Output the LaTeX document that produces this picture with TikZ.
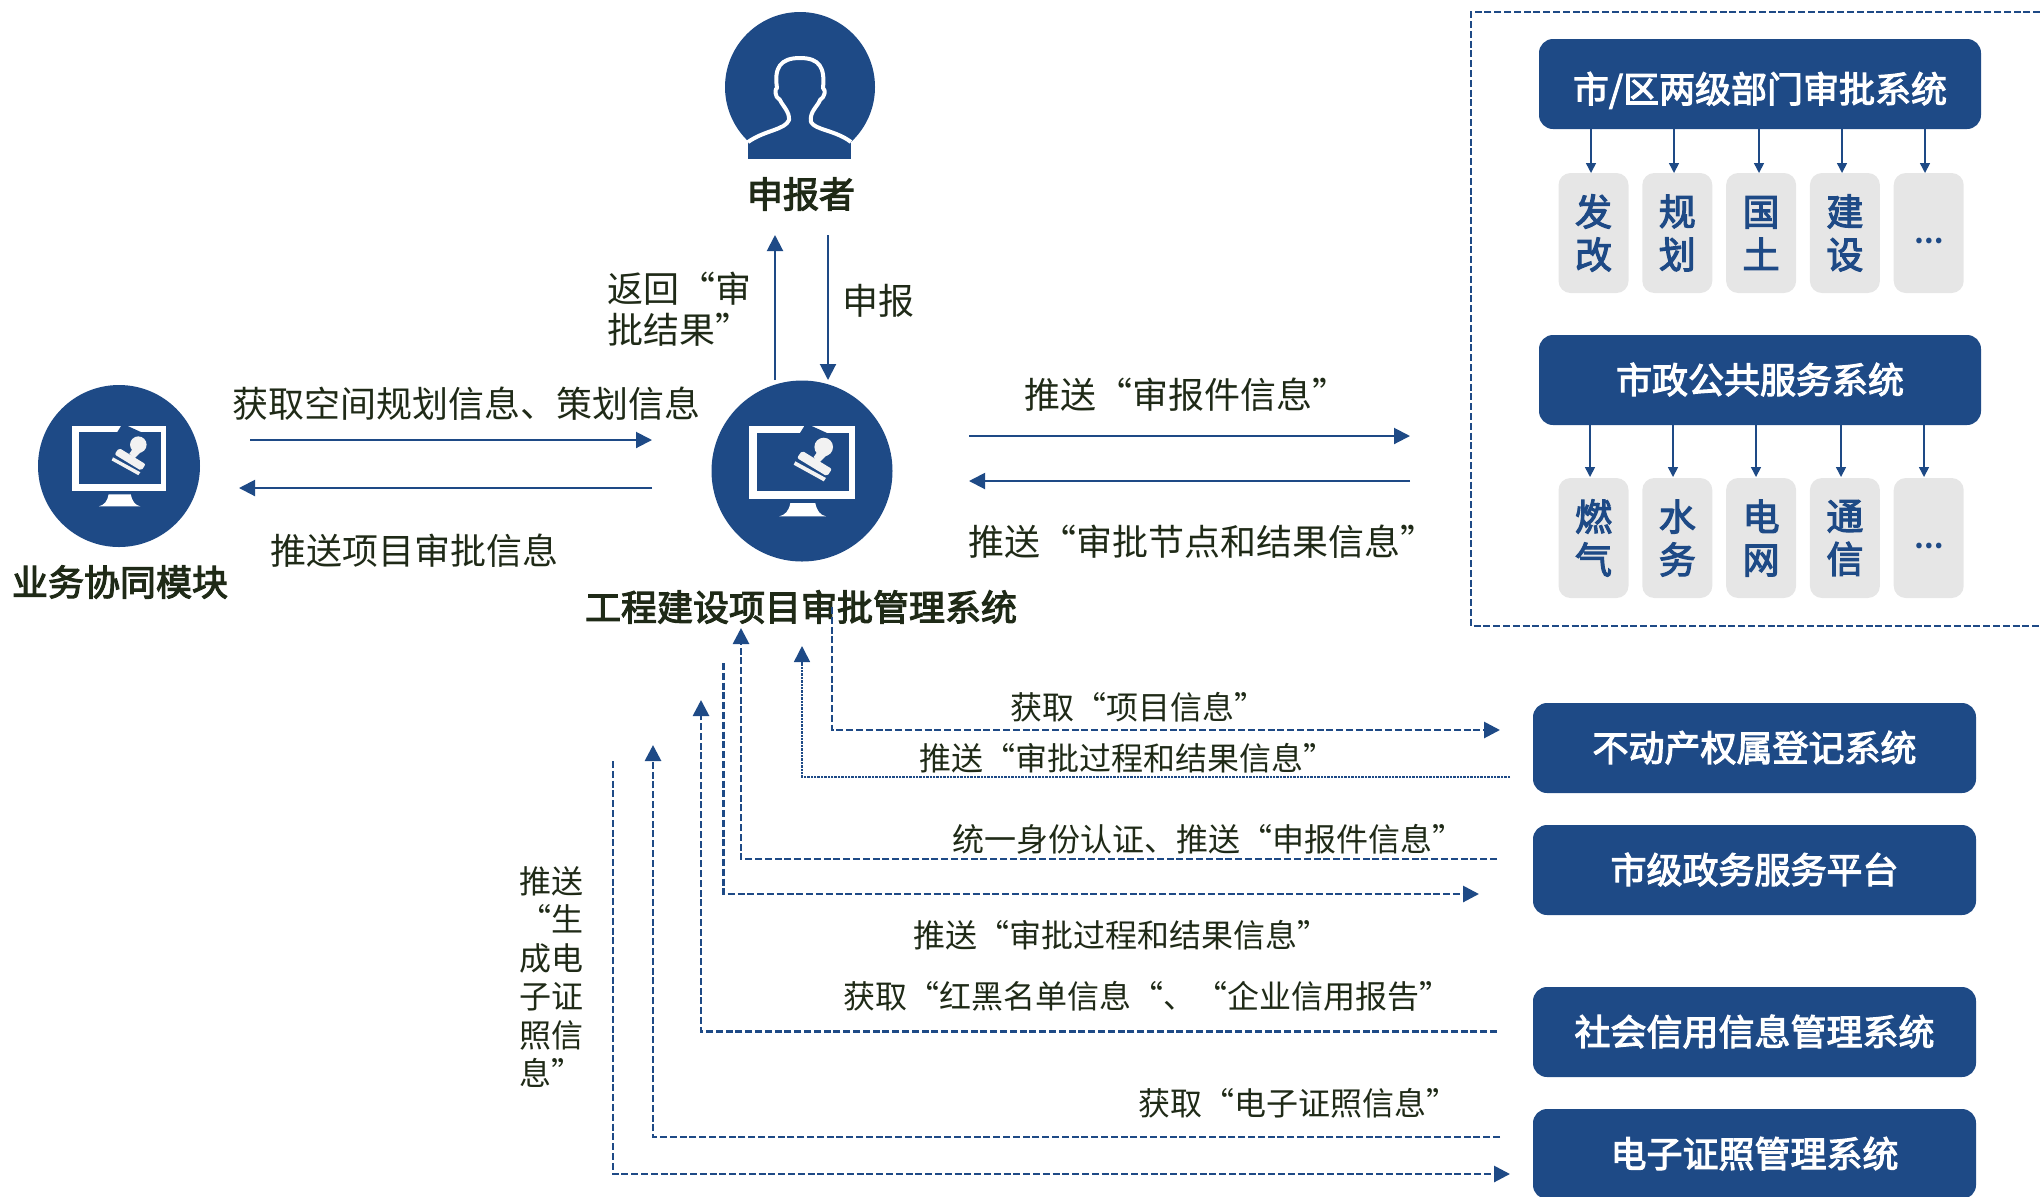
\documentclass[tikz,border=0pt]{standalone}
\usepackage{fontspec}
\usepackage{tikz}
\usetikzlibrary{positioning, arrows.meta}
\setmainfont{Noto Sans CJK SC}
\newfontfamily\heavyfont[FakeBold=3]{Noto Sans CJK SC}
\definecolor{appblue}{HTML}{1E4A86}
\definecolor{appgray}{HTML}{E6E6E6}
\definecolor{apptext}{HTML}{1F2A17}

\begin{document}
\begin{tikzpicture}[
    x=0.5pt, y=-0.5pt,
    every node/.style={align=center, inner sep=0pt, text=apptext},
    bigfont/.style={font=\fontsize{18pt}{20.8pt}\selectfont},
    smallfont/.style={font=\fontsize{16pt}{19.2pt}\selectfont},
    title/.style={font=\fontsize{18pt}{22pt}\selectfont\heavyfont},
    disc/.style={circle, fill=appblue, minimum size=#1},
    bar/.style={rectangle, rounded corners=7pt, fill=appblue, text=white, minimum height=45pt, text height=16.3pt, text depth=3pt, font=\fontsize{18pt}{22pt}\selectfont\heavyfont},
    cell/.style={rectangle, rounded corners=6pt, fill=appgray, text=appblue, minimum width=35pt, minimum height=60pt, font=\fontsize{18.5pt}{21.5pt}\selectfont\heavyfont},
    dots/.style={font=\fontsize{13pt}{15pt}\selectfont\bfseries},
    arrow/.style={-{Triangle[length=8pt, width=8pt]}, appblue, line width=1pt},
    tiny/.style={-{Triangle[length=5pt, width=5pt]}, appblue, line width=0.8pt},
    dashline/.style={appblue, line width=1.4pt, dash pattern=on 3.5pt off 1.4pt},
    dashdot/.style={appblue, line width=0.8pt, dash pattern=on 1.2pt off 0.5pt},
    dasharrow/.style={-{Triangle[length=8pt, width=8pt]}},
    monitor/.pic={
        \fill[white] (-52.7,-45.3) rectangle (53.3,28);
        \fill[appblue] (-45,-38) rectangle (46.7,20);
        \fill[appblue] (3,-46) -- (9,-45.3) -- (25,-38) -- (-2,-38) -- cycle;
        \fill[white] (-11.7,32) -- (13.3,32) .. controls (15,40) and (18,44) .. (24,45.3) -- (-22.7,45.3) .. controls (-17,44) and (-13,40) .. (-11.7,32) -- cycle;
        \fill[white!95!black] (21.7,-24) circle (9.3);
        \fill[white!95!black] (15.7,-19.7) -- (25,-16.3) -- (17,-8) -- (11.7,-14) -- cycle;
        \fill[white!95!black, rounded corners=1pt] (0,-20.3) -- (30,-2) -- (25,5.3) -- (-5,-13) -- cycle;
        \fill[white!95!black] (-6.7,-9.7) -- (24,7) -- (21.7,10.3) -- (-8.3,-6.3) -- cycle;
    }
]
\clip (0,0) rectangle (2040,1196);

% Applicant
\begin{scope}
    \clip (700,0) rectangle (900,142);
    \node[disc=75pt] (applicant) at (800,87) {};
\end{scope}
\fill[appblue] (748,140) rectangle (851,159);
\draw[white, line width=2pt, line join=round] (748,142) .. controls (765,130) and (785,130) .. (789,120)
    .. controls (790,112) and (782,105) .. (780,100) .. controls (774,97) and (775,88) .. (777,88)
    .. controls (774,68) and (780,58) .. (800,58) .. controls (820,58) and (825,68) .. (823,88)
    .. controls (826,90) and (825,97) .. (820,100) .. controls (818,106) and (809,112) .. (811,122)
    .. controls (815,130) and (835,130) .. (851,142);
\node[title] (applicantname) at (801,194) {申报者};

% Stamp discs
\node[disc=90.5pt] (approval) at (802,471) {};
\pic at (802,471) {monitor};
\node[title] (approvalname) at (801,607) {工程建设项目审批管理系统};
\node[disc=81pt] (module) at (119,466) {};
\pic[scale=0.89] at (119,466) {monitor};
\node[title] (modulename) at (120,582) {业务协同模块};

% Outer frame
\draw[dashline] (2050,12) -- (1471,12) -- (1471,626) -- (2050,626);

% Right systems
\node[bar, minimum width=221pt, text height=21.5pt] (cityapproval) at (1760,84) {市/区两级部门审批系统};
\node[cell] (fagai) at (1593.5,233) {发\\改};
\node[cell, right=6.5pt of fagai] (guihua) {规\\划};
\node[cell, right=6.5pt of guihua] (guotu) {国\\土};
\node[cell, right=6.5pt of guotu] (jianshe) {建\\设};
\node[cell, dots, right=6.5pt of jianshe] (moreone) {\raisebox{-11pt}{…}};

\node[bar, minimum width=221pt] (municipal) at (1760,380) {市政公共服务系统};
\node[cell] (ranqi) at (1593.5,538) {燃\\气};
\node[cell, right=6.5pt of ranqi] (shuiwu) {水\\务};
\node[cell, right=6.5pt of shuiwu] (dianwang) {电\\网};
\node[cell, right=6.5pt of dianwang] (tongxin) {通\\信};
\node[cell, dots, right=6.5pt of tongxin] (moretwo) {\raisebox{-11pt}{…}};

% Lower systems
\node[bar, minimum width=221.5pt] (property) at (1754.5,748) {不动产权属登记系统};
\node[bar, minimum width=221.5pt] (service) at (1754.5,870) {市级政务服务平台};
\node[bar, minimum width=221.5pt] (credit) at (1754.5,1032) {社会信用信息管理系统};
\node[bar, minimum width=221.5pt] (license) at (1754.5,1154) {电子证照管理系统};

% Free ends
\coordinate (upstart) at (775,380);
\coordinate (upend) at (775,235);
\coordinate (downstart) at (828,235);
\coordinate (downend) at (828,380);
\coordinate (fetchstart) at (250,440);
\coordinate (fetchend) at (652,440);
\coordinate (pushstart) at (652,488);
\coordinate (pushend) at (239,488);
\coordinate (sendstart) at (969,436);
\coordinate (sendend) at (1410,436);
\coordinate (backstart) at (1410,481);
\coordinate (backend) at (969,481);

% Arrows
\draw[arrow] (upstart) -- (upend);
\draw[arrow] (downstart) -- (downend);
\draw[arrow] (fetchstart) -- (fetchend);
\draw[arrow] (pushstart) -- (pushend);
\draw[arrow] (sendstart) -- (sendend);
\draw[arrow] (backstart) -- (backend);

\draw[tiny] (cityapproval.south -| 1591,0) -- (1591,173);
\draw[tiny] (cityapproval.south -| 1674,0) -- (1674,173);
\draw[tiny] (cityapproval.south -| 1759,0) -- (1759,173);
\draw[tiny] (cityapproval.south -| 1842,0) -- (1842,173);
\draw[tiny] (cityapproval.south -| 1925,0) -- (1925,173);
\draw[tiny] (municipal.south -| 1590,0) -- (1590,477);
\draw[tiny] (municipal.south -| 1673,0) -- (1673,477);
\draw[tiny] (municipal.south -| 1756,0) -- (1756,477);
\draw[tiny] (municipal.south -| 1841,0) -- (1841,477);
\draw[tiny] (municipal.south -| 1924,0) -- (1924,477);

% Dashed links
\draw[dashline, dasharrow] (832,607) |- (1500,730);
\draw[dashdot, dasharrow] (1510,777) -| (802,646);
\draw[dashline, dasharrow] (1497,859) -| (741,628);
\draw[dashline, dasharrow] (723.5,663) |- (1479,894);
\draw[dashline, dasharrow] (1497,1031.5) -| (701,700);
\draw[dashline, dasharrow] (1500,1137) -| (653,745);
\draw[dashline, dasharrow] (613,761) |- (1510,1174);

% Labels
\node[bigfont, align=left, anchor=west] (returnlabel) at (607,309) {返回“审\\批结果”};
\node[bigfont] (reportlabel) at (878,301) {申报};
\node[bigfont] (fetchlabel) at (466,404) {获取空间规划信息、策划信息};
\node[bigfont] (pushlabel) at (414,551) {推送项目审批信息};
\node[bigfont] (sendlabel) at (1186,395) {推送“审报件信息”};
\node[bigfont] (backlabel) at (1202,542) {推送“审批节点和结果信息”};

\node[smallfont] (projectlabel) at (1138,707) {获取“项目信息”};
\node[smallfont] (processlabel) at (1127,758) {推送“审批过程和结果信息”};
\node[smallfont] (identitylabel) at (1208,839) {统一身份认证、推送“申报件信息”};
\node[smallfont] (processtwolabel) at (1121,935) {推送“审批过程和结果信息”};
\node[smallfont] (creditlabel) at (1147,996) {获取“红黑名单信息“、“企业信用报告”};
\node[smallfont] (licenselabel) at (1298,1103) {获取“电子证照信息”};
\node[smallfont, align=left, anchor=west] (genlabel) at (519,977) {推送\\“生\\成电\\子证\\照信\\息”};

\end{tikzpicture}
\end{document}
